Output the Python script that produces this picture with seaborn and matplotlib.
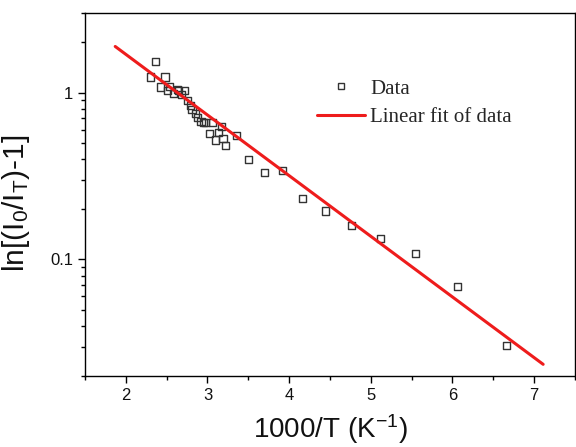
import numpy as np
import pandas as pd
import matplotlib
matplotlib.use("Agg")
import matplotlib.pyplot as plt
from matplotlib.ticker import FixedLocator, MultipleLocator, NullFormatter, FuncFormatter
from matplotlib.lines import Line2D
import seaborn as sns

# Data
inv_T = [2.36, 2.30, 2.48, 2.42, 2.54, 2.51, 2.58, 2.63, 2.65, 2.72,
         2.68, 2.76, 2.79, 2.81, 2.85, 2.88, 2.92, 2.95, 2.98, 3.06,
         3.17, 3.02, 3.13, 3.10, 3.19, 3.35, 3.22, 3.50, 3.70, 3.92,
         4.16, 4.44, 4.76, 5.12, 5.55, 6.06, 6.66]
ln_ratio = [1.54, 1.24, 1.24, 1.08, 1.09, 1.03, 0.99, 1.05, 1.03, 1.03,
            0.97, 0.895, 0.835, 0.787, 0.745, 0.705, 0.669, 0.663, 0.663, 0.663,
            0.625, 0.565, 0.577, 0.520, 0.531, 0.554, 0.480, 0.399, 0.330, 0.340,
            0.233, 0.195, 0.159, 0.134, 0.109, 0.0688, 0.0305]

# Linear fit line (endpoints)
fit_x = [1.87, 7.11]
fit_y = [1.89, 0.0235]

x_major = [2, 3, 4, 5, 6, 7]
y_major = [0.1, 1]
y_major_labels = ["0.1", "1"]

sns.set_theme(style="ticks")
plt.rcParams["font.family"] = ["Liberation Sans", "DejaVu Sans"]
plt.rcParams["mathtext.default"] = "regular"

fig = plt.figure(figsize=(5.76, 4.47), dpi=100)
ax = fig.add_axes([85/576, 1 - 376/447, 490/576, 363/447])

df = pd.DataFrame({"x": inv_T, "y": ln_ratio})
fit_df = pd.DataFrame({"x": fit_x, "y": fit_y})

sns.lineplot(data=fit_df, x="x", y="y", ax=ax, color="#ee1c1c", lw=2.2, zorder=3)
sns.scatterplot(data=df, x="x", y="y", ax=ax, marker="s", s=26,
                facecolors="none", edgecolor="#333333", linewidth=1.0, zorder=2)

ax.set_yscale("log")
ax.set_xlim(1.5, 7.5)
ax.set_ylim(0.02, 3)

ax.xaxis.set_major_locator(FixedLocator(x_major))
ax.xaxis.set_minor_locator(MultipleLocator(0.5))
ax.yaxis.set_major_locator(FixedLocator(y_major))
minor_y = [k * 10.0 ** e for e in (-2, -1, 0) for k in range(2, 10)]
ax.yaxis.set_minor_locator(FixedLocator(minor_y))
ax.yaxis.set_major_formatter(FuncFormatter(lambda v, p: y_major_labels[y_major.index(v)] if v in y_major else ""))
ax.yaxis.set_minor_formatter(NullFormatter())

ax.tick_params(axis="both", which="major", direction="out", length=5, width=1,
               labelsize=12, color="black", labelcolor="#111111")
ax.tick_params(axis="both", which="minor", direction="out", length=3, width=1, color="black")
ax.tick_params(top=False, right=False, which="both")

for sp in ax.spines.values():
    sp.set_visible(True)
    sp.set_color("black")
    sp.set_linewidth(1.0)

ax.set_xlabel("1000/T (K$^{-1}$)", fontsize=20, color="#111111", labelpad=7)
ax.set_ylabel("ln[(I$_0$/I$_T$)-1]", fontsize=21.5, color="#111111")
ax.yaxis.set_label_coords(-0.108, 0.475)

handles = [
    Line2D([], [], marker="s", ls="none", markersize=5, markerfacecolor="none",
           markeredgecolor="#333333", markeredgewidth=1.0),
    Line2D([], [], color="#ee1c1c", lw=2.2),
]
leg = ax.legend(handles, ["Data", "Linear fit of data"], loc="upper left",
                bbox_to_anchor=((317 - 85) / 490, (376 - 79) / 363),
                frameon=False, borderpad=0, borderaxespad=0, handlelength=2.3,
                handletextpad=0.25, labelspacing=0.42,
                prop={"family": "Liberation Serif", "size": 15})

fig.savefig("out.png", dpi=100)
